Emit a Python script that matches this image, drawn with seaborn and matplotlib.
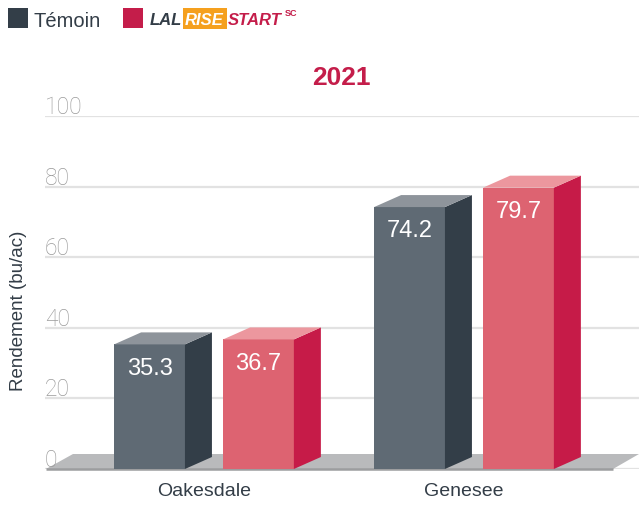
import pandas as pd
import seaborn as sns
import matplotlib.pyplot as plt
from matplotlib.patches import Polygon, Rectangle

# data
sites = ["Oakesdale", "Genesee"]
treatments = ["Témoin", "LALRISE START SC"]
temoin = [35.3, 74.2]
lalrise = [36.7, 79.7]
yticks = [0, 20, 40, 60, 80, 100]

front_colors = ["#5f6a74", "#dd6371"]
side_colors = ["#333e48", "#c61b48"]
top_colors = ["#8e949b", "#ec979e"]
dark = "#333d47"
red = "#c41d4a"

df = pd.DataFrame({
    "site": sites * 2,
    "treatment": [treatments[0]] * 2 + [treatments[1]] * 2,
    "yield": temoin + lalrise,
})

sns.set_style("white")
plt.rcParams["font.family"] = ["Liberation Sans", "DejaVu Sans"]

W, H = 639, 505
fig = plt.figure(figsize=(W / 100, H / 100), dpi=100)
ax = fig.add_axes([45 / W, 36 / H, 594 / W, 353 / H])

sns.barplot(data=df, x="site", y="yield", hue="treatment",
            palette=dict(zip(treatments, front_colors)), saturation=1,
            width=0.838, gap=0.35, errorbar=None, legend=False,
            linewidth=0, ax=ax, zorder=3)

xmin = -159 / 260
ax.set_xlim(xmin, xmin + 594 / 260)
ax.set_ylim(0, 100)
sns.despine(ax=ax, left=True, bottom=True)
ax.set_xlabel("")
ax.set_ylabel("")
ax.set_yticks(yticks)
ax.set_yticklabels([])
ax.tick_params(axis="both", length=0)
ax.tick_params(axis="x", pad=10, labelsize=14, labelcolor=dark)
ax.grid(axis="y", color="#e2e2e2", lw=1.6, zorder=0)
ax.grid(axis="x", visible=False)

# 3D depth of bars (pixels -> data)
dx = 27 / 260
dy = 12 * 100 / 353

# floor slab
floor = Polygon([(1 / 594, 0), (568 / 594, 0), (1.0, 15 / 353), (28 / 594, 15 / 353)],
                closed=True, transform=ax.transAxes, facecolor="#b9babc",
                edgecolor="none", clip_on=False, zorder=1)
ax.add_patch(floor)
ax.plot([1 / 594, 568 / 594], [0, 0], transform=ax.transAxes, color="#9c9d9f",
        lw=1.8, clip_on=False, zorder=1.5, solid_capstyle="butt")

for i, cont in enumerate(ax.containers):
    for p in cont.patches:
        x0, w, h = p.get_x(), p.get_width(), p.get_height()
        x1 = x0 + w
        ax.add_patch(Polygon([(x1, 0), (x1, h), (x1 + dx, h + dy), (x1 + dx, dy)],
                             closed=True, facecolor=side_colors[i], edgecolor="none",
                             zorder=3, clip_on=False))
        ax.add_patch(Polygon([(x0, h), (x1, h), (x1 + dx, h + dy), (x0 + dx, h + dy)],
                             closed=True, facecolor=top_colors[i], edgecolor="none",
                             zorder=3, clip_on=False))
        ax.annotate(f"{h:.1f}", (x0 + w / 2, h), xytext=(0, -17.5),
                    textcoords="offset points", ha="center", va="center",
                    color="white", fontsize=17, zorder=5)

# y tick labels sitting above the gridlines
for v in yticks:
    ax.annotate(str(v), (0, v), xycoords=("axes fraction", "data"),
                xytext=(0, 1.5), textcoords="offset points",
                ha="left", va="baseline", color="#9a9a9a", fontsize=16.5,
                family=["Roboto", "Liberation Sans"], fontweight="light",
                zorder=6, annotation_clip=False)

fig.text(19 / W, 1 - 311 / H, "Rendement (bu/ac)", rotation=90, ha="center",
         va="center", color=dark, fontsize=13.5)
fig.text(341 / W, 1 - 78 / H, "2021", ha="center", va="center", color=red,
         fontsize=19, fontweight="bold")

# legend
fig.patches.append(Rectangle((8 / W, 1 - 28 / H), 20 / W, 20 / H,
                             transform=fig.transFigure, facecolor=side_colors[0],
                             edgecolor="none"))
fig.text(34 / W, 1 - 27 / H, "Témoin", ha="left", va="baseline", color=dark,
         fontsize=14.5)
fig.patches.append(Rectangle((123 / W, 1 - 28 / H), 20 / W, 20 / H,
                             transform=fig.transFigure, facecolor=red,
                             edgecolor="none"))

# logo text laid out piece by piece
renderer = fig.canvas.get_renderer()
base = 1 - 25 / H
logo = dict(fontsize=12, fontweight="bold", fontstyle="italic", va="baseline", ha="left")
t = fig.text(150 / W, base, "LAL", color=dark, **logo)
x = t.get_window_extent(renderer).x1 + 1
t = fig.text(0, base, "RISE", color="white", zorder=3, **logo)
rw = t.get_window_extent(renderer).width
fig.patches.append(Rectangle((x / W, 1 - 29 / H), (rw + 5) / W, 21 / H,
                             transform=fig.transFigure, facecolor="#f5a01e",
                             edgecolor="none", zorder=2))
t.set_x((x + 1.5) / W)
x = x + rw + 6
t = fig.text(x / W, base, "START", color=red, **logo)
x = t.get_window_extent(renderer).x1 + 3
fig.text(x / W, 1 - 16 / H, "SC", ha="left", va="baseline", color=red,
         fontsize=6.5, fontweight="bold")

fig.savefig("out.png", dpi=100)
